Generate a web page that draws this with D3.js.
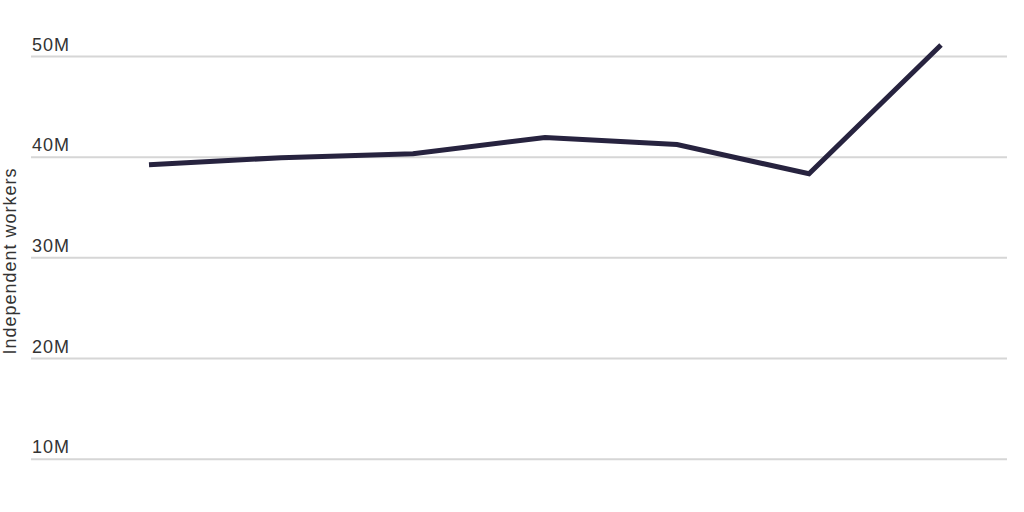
<!DOCTYPE html>
<html lang="en">
<head>
<meta charset="utf-8">
<title>Independent workers</title>
<script src="https://cdn.jsdelivr.net/npm/d3@7"></script>
<style>
  body { margin: 0; background: #fff; }
  svg text { font-family: "Liberation Sans", Arial, sans-serif; fill: #333; }
  .grid line { stroke: #d6d6d6; stroke-width: 2; }
  .grid text { font-size: 18px; letter-spacing: 1px; }
  .ytitle { font-size: 18px; letter-spacing: 1px; }
  path.series { fill: none; stroke: #27233f; stroke-width: 5; stroke-linejoin: miter; }
</style>
</head>
<body>
<script>
  // independent workers by year
  const years = [2015, 2016, 2017, 2018, 2019, 2020, 2021];
  const workers = [39.2e6, 39.9e6, 40.3e6, 41.9e6, 41.2e6, 38.3e6, 51.1e6];
  const yTicks = [10e6, 20e6, 30e6, 40e6, 50e6];
  const tickLabels = ["10M", "20M", "30M", "40M", "50M"];

  const width = 1024, height = 512;

  const svg = d3.select("body").append("svg")
    .attr("width", width)
    .attr("height", height);

  const x = d3.scaleLinear()
    .domain(d3.extent(years))
    .range([149, 941]);

  // zero sits below the visible area
  const y = d3.scaleLinear()
    .domain([0, 50e6])
    .range([559.4, 56]);

  const gridLeft = 31, gridRight = 1007;

  const grid = svg.append("g")
    .attr("class", "grid")
    .attr("transform", `translate(${gridLeft},0)`)
    .call(d3.axisRight(y)
      .tickValues(yTicks)
      .tickSize(gridRight - gridLeft)
      .tickFormat((d, i) => tickLabels[i]));

  grid.select(".domain").remove();
  grid.selectAll(".tick text")
    .attr("x", 1)
    .attr("dy", -6)
    .attr("text-anchor", "start");

  svg.append("text")
    .attr("class", "ytitle")
    .attr("transform", "translate(15.5,261) rotate(-90)")
    .attr("text-anchor", "middle")
    .text("Independent workers");

  const line = d3.line()
    .x((d, i) => x(years[i]))
    .y(d => y(d));

  svg.append("path")
    .attr("class", "series")
    .datum(workers)
    .attr("d", line);
</script>
</body>
</html>
